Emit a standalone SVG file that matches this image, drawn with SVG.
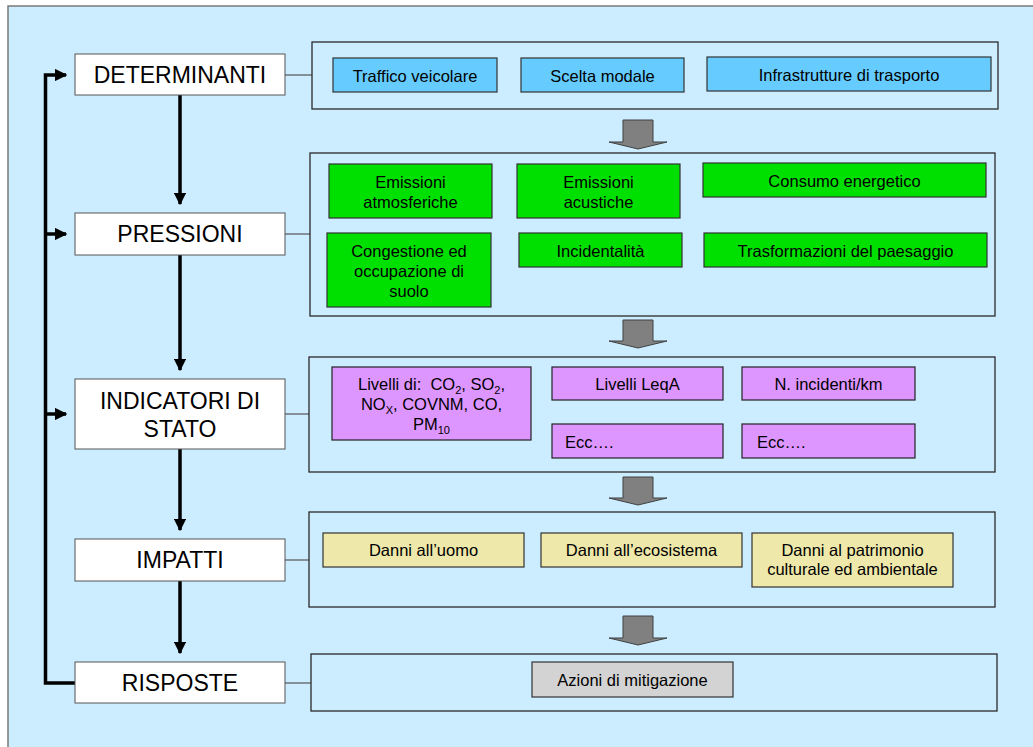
<svg xmlns="http://www.w3.org/2000/svg" width="1033" height="747" viewBox="0 0 1033 747">
<defs>
<style>
text{font-family:"Liberation Sans",Arial,sans-serif;fill:#000}
.big{font-size:23px;text-anchor:middle}
.sm{font-size:16.5px;text-anchor:middle}
.lft{font-size:16.5px}
.node{fill:#fff;stroke:#555;stroke-width:1}
.panel{fill:none;stroke:#2a2a2a;stroke-width:1.3}
.blue{fill:#66CCFF;stroke:#333;stroke-width:1.2}
.green{fill:#00E000;stroke:#333;stroke-width:1.2}
.purple{fill:#DD95FF;stroke:#222;stroke-width:1.2}
.yellow{fill:#EEE8AA;stroke:#333;stroke-width:1.2}
.grey{fill:#D3D3D3;stroke:#333;stroke-width:1.2}
.link{fill:none;stroke:#000;stroke-width:3.5}
.thin{fill:none;stroke:#555;stroke-width:1.2}
.blk{fill:#808080;stroke:#404040;stroke-width:1}
</style>
<marker id="ah" viewBox="0 0 10 10" refX="9" refY="5" markerWidth="3.6" markerHeight="3.6" orient="auto" markerUnits="strokeWidth">
<path d="M0,0 L10,5 L0,10 z" fill="#000"/>
</marker>
</defs>
<rect x="8" y="6" width="1040" height="760" fill="#CCECFF" stroke="#7a7a7a" stroke-width="1.5"/>

<g id="connectors">
<path class="link" d="M75,683 H45.5 V75 H66" marker-end="url(#ah)"/>
<path class="link" d="M45.5,234 H66" marker-end="url(#ah)"/>
<path class="link" d="M45.5,414 H66" marker-end="url(#ah)"/>
<path class="link" d="M180,95 V204" marker-end="url(#ah)"/>
<path class="link" d="M180,255 V370" marker-end="url(#ah)"/>
<path class="link" d="M180,449 V530" marker-end="url(#ah)"/>
<path class="link" d="M180,581 V653" marker-end="url(#ah)"/>
<path class="thin" d="M285,75 H312"/>
<path class="thin" d="M285,234 H310"/>
<path class="thin" d="M285,414 H309"/>
<path class="thin" d="M285,560 H309"/>
<path class="thin" d="M285,683 H311"/>
<path class="blk" d="M623,120 H653 V142 H667 L638,149 L609,142 H623 Z"/>
<path class="blk" d="M623,320 H653 V341 H667 L638,348 L609,341 H623 Z"/>
<path class="blk" d="M623,477 H653 V498 H667 L638,505 L609,498 H623 Z"/>
<path class="blk" d="M623,616 H653 V638 H667 L638,645 L609,638 H623 Z"/>
</g>

<g id="determinanti"><rect class="node" x="75" y="54" width="210" height="41"/><text class="big" x="180" y="83">DETERMINANTI</text></g>
<g id="pressioni"><rect class="node" x="75" y="213" width="210" height="42"/><text class="big" x="180" y="242">PRESSIONI</text></g>
<g id="indicatori"><rect class="node" x="75" y="379" width="210" height="70"/><text class="big" x="180" y="409">INDICATORI DI</text><text class="big" x="180" y="437">STATO</text></g>
<g id="impatti"><rect class="node" x="75" y="539" width="210" height="42"/><text class="big" x="180" y="568">IMPATTI</text></g>
<g id="risposte"><rect class="node" x="75" y="662" width="210" height="41"/><text class="big" x="180" y="691">RISPOSTE</text></g>

<g id="panel-determinanti">
<rect class="panel" x="312" y="42" width="686" height="67"/>
<g id="traffico"><rect class="blue" x="333" y="58" width="164" height="34"/><text class="sm" x="415" y="82">Traffico veicolare</text></g>
<g id="scelta"><rect class="blue" x="521" y="58" width="163" height="34"/><text class="sm" x="602.5" y="82">Scelta modale</text></g>
<g id="infrastrutture"><rect class="blue" x="707" y="57" width="284" height="34"/><text class="sm" x="849" y="81">Infrastrutture di trasporto</text></g>
</g>

<g id="panel-pressioni">
<rect class="panel" x="310" y="153" width="685" height="163"/>
<g id="emissioni-atm"><rect class="green" x="329" y="164" width="163" height="54"/><text class="sm" x="410.5" y="188">Emissioni</text><text class="sm" x="410.5" y="208">atmosferiche</text></g>
<g id="emissioni-ac"><rect class="green" x="517" y="164" width="163" height="54"/><text class="sm" x="598.5" y="188">Emissioni</text><text class="sm" x="598.5" y="208">acustiche</text></g>
<g id="consumo"><rect class="green" x="703" y="163" width="283" height="34"/><text class="sm" x="844.5" y="187">Consumo energetico</text></g>
<g id="congestione"><rect class="green" x="327" y="233" width="164" height="74"/><text class="sm" x="409" y="257">Congestione ed</text><text class="sm" x="409" y="277">occupazione di</text><text class="sm" x="409" y="297">suolo</text></g>
<g id="incidentalita"><rect class="green" x="519" y="233" width="163" height="34"/><text class="sm" x="600.5" y="257">Incidentalità</text></g>
<g id="trasformazioni"><rect class="green" x="704" y="233" width="283" height="34"/><text class="sm" x="845.5" y="257">Trasformazioni del paesaggio</text></g>
</g>

<g id="panel-indicatori">
<rect class="panel" x="309" y="357" width="686" height="115"/>
<g id="livelli"><rect class="purple" x="332" y="367" width="199" height="73"/>
<text class="sm" x="431.5" y="390">Livelli di:&#160; CO<tspan font-size="11" dy="4">2</tspan><tspan dy="-4">, SO</tspan><tspan font-size="11" dy="4">2</tspan><tspan dy="-4">,</tspan></text>
<text class="sm" x="431.5" y="410">NO<tspan font-size="11" dy="4">X</tspan><tspan dy="-4">, COVNM, CO,</tspan></text>
<text class="sm" x="431.5" y="430">PM<tspan font-size="11" dy="4">10</tspan></text></g>
<g id="leqa"><rect class="purple" x="552" y="367" width="171" height="33"/><text class="sm" x="637.5" y="390">Livelli LeqA</text></g>
<g id="ecc1"><rect class="purple" x="552" y="424" width="171" height="34"/><text class="lft" x="565" y="448">Ecc….</text></g>
<g id="incidenti"><rect class="purple" x="742" y="367" width="173" height="33"/><text class="sm" x="828.5" y="390">N. incidenti/km</text></g>
<g id="ecc2"><rect class="purple" x="742" y="424" width="173" height="34"/><text class="lft" x="757" y="448">Ecc….</text></g>
</g>

<g id="panel-impatti">
<rect class="panel" x="309" y="512" width="686" height="95"/>
<g id="danni-uomo"><rect class="yellow" x="323" y="533" width="201" height="34"/><text class="sm" x="423.5" y="556">Danni all’uomo</text></g>
<g id="danni-eco"><rect class="yellow" x="541" y="533" width="201" height="34"/><text class="sm" x="641.5" y="556">Danni all’ecosistema</text></g>
<g id="danni-patrimonio"><rect class="yellow" x="752" y="533" width="201" height="54"/><text class="sm" x="852.5" y="556">Danni al patrimonio</text><text class="sm" x="852.5" y="575">culturale ed ambientale</text></g>
</g>

<g id="panel-risposte">
<rect class="panel" x="311" y="654" width="686" height="57"/>
<g id="azioni"><rect class="grey" x="532" y="662" width="201" height="35"/><text class="sm" x="632.5" y="686">Azioni di mitigazione</text></g>
</g>
</svg>
